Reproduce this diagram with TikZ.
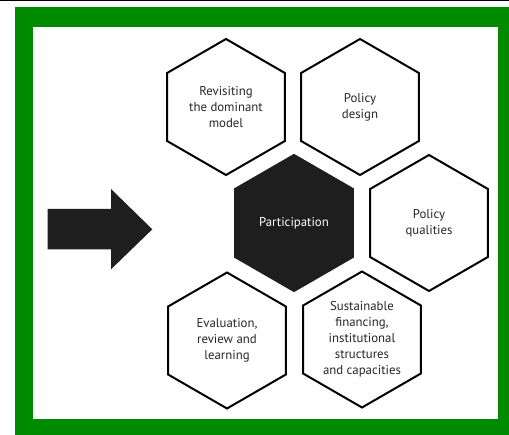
\documentclass[tikz,border=0pt]{standalone}
\usepackage{fontspec}
\setmainfont{PT Sans}
\usetikzlibrary{shapes.geometric}
\definecolor{framegreen}{RGB}{0,138,0}
\definecolor{hexdark}{RGB}{30,30,30}
\tikzset{
  hexcell/.style={regular polygon, regular polygon sides=6, shape border rotate=30,
    minimum size=136pt, inner sep=0pt, outer sep=0pt, draw=black, line width=2pt,
    fill=white, align=center, font=\fontsize{12.8}{16}\selectfont, text=black!85},
  hexcore/.style={hexcell, fill=hexdark, draw=hexdark, text=white}
}
\begin{document}
\begin{tikzpicture}[x=1pt,y=-1pt]
  \useasboundingbox (0,0) rectangle (509,435);
  % page background and thin rule at the top
  \fill[white] (0,0) rectangle (509,435);
  \fill[black] (0,0) rectangle (509,1.2);
  % green frame around the white panel
  \fill[framegreen] (15,7) rectangle (509,435);
  \fill[white] (33,27) rectangle (498,419);
  % big arrow pointing into the honeycomb
  \fill[hexdark] (47.7,209) -- (111,209) -- (111,189) -- (152.3,229.3)
    -- (111,269.3) -- (111,249.3) -- (47.7,249.3) -- cycle;
  % honeycomb cells
  \node[hexcell] (revisit) at (226,107) {Revisiting\\the dominant\\model};
  \node[hexcell] (design) at (360,107) {Policy\\design};
  \node[hexcore] (part) at (294,223) {Participation};
  \node[hexcell] (qual) at (429,223) {Policy\\qualities};
  \node[hexcell] (eval) at (227,340.5) {Evaluation,\\review and\\learning};
  \node[hexcell] (finance) at (362,339.5) {Sustainable\\financing,\\institutional\\structures\\and capacities};
\end{tikzpicture}
\end{document}
